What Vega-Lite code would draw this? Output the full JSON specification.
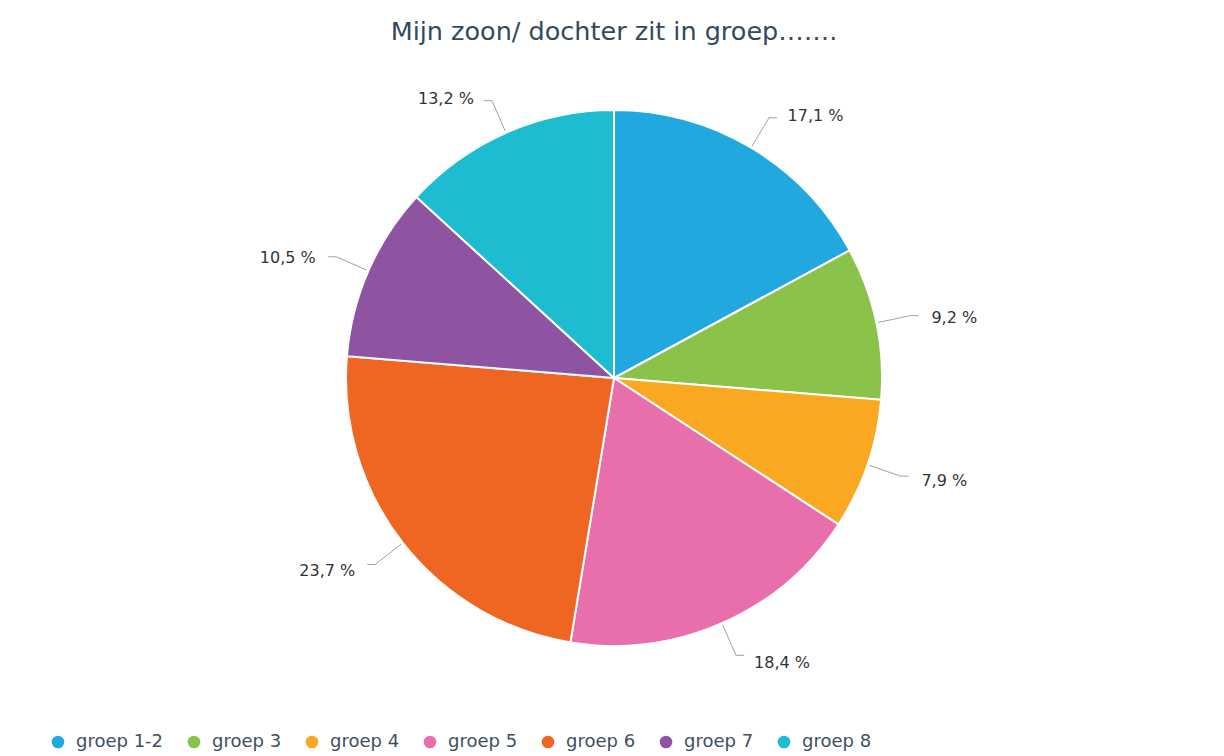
{
  "$schema": "https://vega.github.io/schema/vega-lite/v6.json",
  "width": 1228,
  "height": 756,
  "autosize": {"type": "none"},
  "padding": 0,
  "background": "white",
  "title": {
    "text": "Mijn zoon/ dochter zit in groep…….",
    "font": "DejaVu Sans",
    "fontSize": 25.5,
    "fontWeight": "normal",
    "color": "#34495e",
    "anchor": "middle",
    "offset": -45
  },
  "data": {
    "values": [
      {"groep": "groep 1-2", "pct": 17.1, "idx": 1},
      {"groep": "groep 3", "pct": 9.2, "idx": 2},
      {"groep": "groep 4", "pct": 7.9, "idx": 3},
      {"groep": "groep 5", "pct": 18.4, "idx": 4},
      {"groep": "groep 6", "pct": 23.7, "idx": 5},
      {"groep": "groep 7", "pct": 10.5, "idx": 6},
      {"groep": "groep 8", "pct": 13.2, "idx": 7}
    ]
  },
  "transform": [
    {"window": [{"op": "sum", "field": "pct", "as": "cum"}], "sort": [{"field": "idx"}], "frame": [null, 0]},
    {"calculate": "datum.cum - datum.pct / 2", "as": "midpct"},
    {"calculate": "datum.midpct / 100 * 2 * PI", "as": "mid"},
    {"calculate": "replace(format(datum.pct, '.1f'), '.', ',') + ' %'", "as": "label"},
    {"calculate": "270 * sin(datum.mid)", "as": "xa"},
    {"calculate": "270 * cos(datum.mid)", "as": "ya"},
    {"calculate": "303 * sin(datum.mid)", "as": "xb"},
    {"calculate": "303 * cos(datum.mid)", "as": "yb"},
    {"calculate": "datum.xb + (datum.midpct < 50 ? 8 : -8)", "as": "xc"}
  ],
  "layer": [
    {
      "mark": {"type": "arc", "outerRadius": 268, "stroke": "white", "strokeWidth": 2},
      "encoding": {
        "theta": {"field": "pct", "type": "quantitative", "stack": true},
        "order": {"field": "idx", "type": "quantitative"},
        "color": {
          "field": "groep",
          "type": "nominal",
          "scale": {
            "domain": ["groep 1-2", "groep 3", "groep 4", "groep 5", "groep 6", "groep 7", "groep 8"],
            "range": ["#21A8DF", "#8BC34A", "#FAA822", "#E86FAB", "#EF6623", "#8E54A2", "#1DBCD0"]
          },
          "legend": {
            "title": null,
            "orient": "none",
            "legendX": 49,
            "legendY": 733,
            "direction": "horizontal",
            "columns": 7,
            "symbolType": "circle",
            "symbolSize": 160,
            "symbolStrokeWidth": 0,
            "labelFont": "DejaVu Sans",
            "labelFontSize": 18,
            "labelColor": "#3d4f63",
            "columnPadding": 21,
            "labelOffset": 9
          }
        }
      }
    },
    {
      "mark": {"type": "rule", "color": "#a0a0a0", "strokeWidth": 1},
      "encoding": {
        "x": {"field": "xa", "type": "quantitative", "scale": {"domain": [-614, 614], "nice": false, "zero": false}, "axis": null},
        "y": {"field": "ya", "type": "quantitative", "scale": {"domain": [-378, 378], "nice": false, "zero": false}, "axis": null},
        "x2": {"field": "xb"},
        "y2": {"field": "yb"}
      }
    },
    {
      "mark": {"type": "rule", "color": "#a0a0a0", "strokeWidth": 1},
      "encoding": {
        "x": {"field": "xb", "type": "quantitative"},
        "y": {"field": "yb", "type": "quantitative"},
        "x2": {"field": "xc"},
        "y2": {"field": "yb"}
      }
    },
    {
      "transform": [{"filter": "datum.midpct < 50"}],
      "mark": {"type": "text", "radius": 308, "align": "left", "baseline": "middle", "dx": 16, "dy": 3, "font": "DejaVu Sans", "fontSize": 16, "color": "#333333"},
      "encoding": {
        "theta": {"field": "midpct", "type": "quantitative", "stack": null},
        "text": {"field": "label", "type": "nominal"}
      }
    },
    {
      "transform": [{"filter": "datum.midpct >= 50"}],
      "mark": {"type": "text", "radius": 308, "align": "right", "baseline": "middle", "dx": -16, "dy": 3, "font": "DejaVu Sans", "fontSize": 16, "color": "#333333"},
      "encoding": {
        "theta": {"field": "midpct", "type": "quantitative", "stack": null},
        "text": {"field": "label", "type": "nominal"}
      }
    }
  ],
  "config": {"view": {"stroke": null}}
}
